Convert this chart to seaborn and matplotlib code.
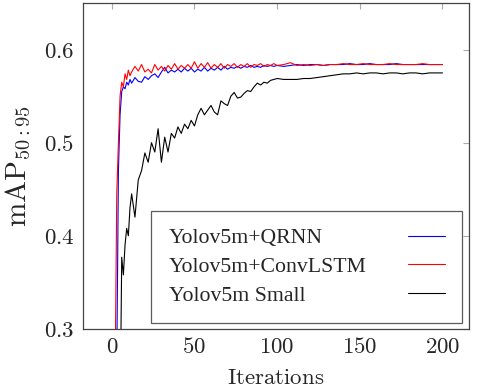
import numpy as np
import pandas as pd
import seaborn as sns
import matplotlib
matplotlib.use("Agg")
import matplotlib.pyplot as plt
from matplotlib.ticker import FuncFormatter

iterations = [0, 1, 2, 3, 4, 5, 6, 7, 8, 9, 10, 11, 12,
              14, 16, 18, 20, 22, 24, 26, 28, 30, 32, 34, 36, 38, 40, 42, 44, 46, 48,
              50, 52, 54, 56, 58, 60, 62, 64, 66, 68, 70, 72, 74, 76, 78, 80, 82, 84, 86, 88,
              90, 92, 94, 96, 98, 100, 104, 108, 112, 116, 120, 124, 128, 132, 136, 140,
              144, 148, 152, 156, 160, 164, 168, 172, 176, 180, 184, 188, 192, 196, 200]

qrnn = [0.0, 0.03, 0.12, 0.26, 0.47, 0.53, 0.555, 0.560, 0.558, 0.565, 0.562, 0.568, 0.564,
        0.570, 0.566, 0.565, 0.571, 0.568, 0.572, 0.574, 0.570, 0.576, 0.581, 0.575, 0.578, 0.576, 0.579, 0.576, 0.580, 0.577, 0.580,
        0.576, 0.579, 0.577, 0.581, 0.577, 0.580, 0.578, 0.581, 0.578, 0.582, 0.579, 0.581, 0.580, 0.582, 0.580, 0.582, 0.581, 0.583, 0.581, 0.582,
        0.581, 0.583, 0.582, 0.583, 0.582, 0.583, 0.582, 0.583, 0.584, 0.583, 0.584, 0.584, 0.583, 0.584, 0.584, 0.584,
        0.585, 0.584, 0.584, 0.585, 0.584, 0.584, 0.584, 0.585, 0.584, 0.584, 0.584, 0.584, 0.584, 0.584, 0.584]

convlstm = [0.0, 0.05, 0.25, 0.445, 0.50, 0.55, 0.565, 0.560, 0.574, 0.568, 0.578, 0.572, 0.576,
            0.582, 0.577, 0.584, 0.576, 0.579, 0.575, 0.584, 0.578, 0.582, 0.577, 0.583, 0.579, 0.585, 0.579, 0.583, 0.580, 0.584, 0.580,
            0.587, 0.580, 0.585, 0.581, 0.586, 0.580, 0.584, 0.581, 0.585, 0.580, 0.584, 0.582, 0.585, 0.581, 0.584, 0.582, 0.585, 0.581, 0.584, 0.583,
            0.585, 0.582, 0.584, 0.583, 0.585, 0.583, 0.584, 0.586, 0.583, 0.584, 0.583, 0.584, 0.583, 0.584, 0.584, 0.585,
            0.584, 0.584, 0.585, 0.584, 0.584, 0.584, 0.585, 0.584, 0.584, 0.584, 0.584, 0.585, 0.584, 0.584, 0.584]

small = [0.0, 0.0, 0.0, 0.05, 0.10, 0.20, 0.377, 0.358, 0.390, 0.408, 0.400, 0.430, 0.445,
         0.420, 0.460, 0.470, 0.489, 0.479, 0.500, 0.490, 0.515, 0.479, 0.506, 0.490, 0.510, 0.505, 0.517, 0.510, 0.520, 0.515, 0.524,
         0.518, 0.530, 0.537, 0.530, 0.535, 0.540, 0.533, 0.530, 0.545, 0.542, 0.540, 0.550, 0.554, 0.548, 0.549, 0.553, 0.556, 0.555, 0.560, 0.564,
         0.562, 0.565, 0.564, 0.567, 0.568, 0.569, 0.568, 0.568, 0.568, 0.569, 0.569, 0.570, 0.571, 0.572, 0.573, 0.574,
         0.574, 0.575, 0.574, 0.575, 0.575, 0.574, 0.575, 0.575, 0.574, 0.575, 0.575, 0.574, 0.575, 0.575, 0.575]

labels = ["Yolov5m+QRNN", "Yolov5m+ConvLSTM", "Yolov5m Small"]
colors = ["#0000ff", "#ff0000", "#000000"]

df = pd.concat([
    pd.DataFrame({"Iterations": iterations, "mAP": vals, "Model": lab})
    for vals, lab in zip([qrnn, convlstm, small], labels)
])

sns.set_theme(style="white")
plt.rcParams["font.family"] = ["Liberation Serif", "DejaVu Serif"]
plt.rcParams["mathtext.fontset"] = "cm"

fig = plt.figure(figsize=(4.79, 3.91), dpi=100)
ax = fig.add_axes([0.173, 0.159, 0.806, 0.833])

sns.lineplot(data=df, x="Iterations", y="mAP", hue="Model", hue_order=labels,
             palette=colors, linewidth=0.8, ax=ax, legend=False)

ax.set_xlim(-17.5, 216)
ax.set_ylim(0.3, 0.65)
ax.set_xticks([0, 50, 100, 150, 200])
ax.set_yticks([0.3, 0.4, 0.5, 0.6])
ax.xaxis.set_major_formatter(FuncFormatter(lambda v, p: f"${v:g}$"))
ax.yaxis.set_major_formatter(FuncFormatter(lambda v, p: f"${v:g}$"))
ax.tick_params(direction="in", length=4, width=0.8, color="#aaaaaa",
               top=True, right=True, labelsize=16.5, pad=6)
for s in ax.spines.values():
    s.set_color("#444444")
    s.set_linewidth(0.9)

ax.set_xlabel(r"$\mathrm{Iterations}$", fontsize=16.5, labelpad=7)
ax.set_ylabel(r"$\mathrm{mAP}_{50:95}$", fontsize=21, labelpad=8)

handles = [plt.Line2D([], [], color=c, linewidth=0.8) for c in colors]
leg = ax.legend(handles, labels, loc="lower right", bbox_to_anchor=(0.982, 0.018),
                borderaxespad=0, markerfirst=False, fancybox=False, frameon=True,
                fontsize=15.7, handlelength=1.67, handletextpad=1.9, labelspacing=0.38,
                borderpad=0.8)
leg.get_frame().set_edgecolor("#333333")
leg.get_frame().set_linewidth(0.9)

# left-align label texts while keeping the line samples aligned on the right
fig.canvas.draw()
renderer = fig.canvas.get_renderer()
widths = [t.get_window_extent(renderer).width for t in leg.get_texts()]
maxw = max(widths)
col = leg._legend_handle_box.get_children()[0]
col.align = "left"
for row, w in zip(col.get_children(), widths):
    row.sep += (maxw - w) * 72.0 / fig.dpi

fig.savefig("out.png", dpi=100)
